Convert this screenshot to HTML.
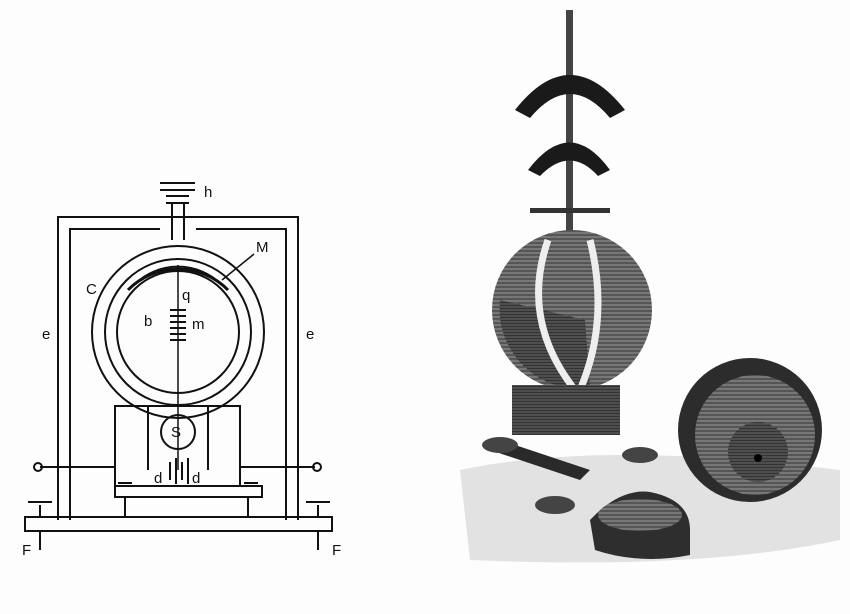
<!DOCTYPE html>
<html><head><meta charset="utf-8"><style>
html,body{margin:0;padding:0;background:#fff}
svg{display:block}
text{font-family:"Liberation Sans",sans-serif;font-size:15px;fill:#111}
</style></head><body>
<svg width="850" height="614" viewBox="0 0 850 614" xmlns="http://www.w3.org/2000/svg">
<defs>
<pattern id="hl" width="4" height="4" patternUnits="userSpaceOnUse"><rect width="4" height="4" fill="#555"/><line x1="0" y1="1" x2="4" y2="1" stroke="#999" stroke-width="1"/></pattern>
<pattern id="hd" width="3" height="3" patternUnits="userSpaceOnUse"><rect width="3" height="3" fill="#333"/><line x1="0" y1="1" x2="3" y2="1" stroke="#777" stroke-width="0.8"/></pattern>
</defs>
<rect width="850" height="614" fill="#fdfdfd"/>
<g fill="none" stroke="#111" stroke-width="2">
<path d="M58 520 V217 H298 V520 M70 520 V229 H160 M196 229 H286 V520"/>
<path d="M160 183 H195 M160 190 H195 M166 196 H189 M166 203 H189 M172 203 V240 M184 203 V240"/>
<circle cx="178" cy="332" r="86"/>
<circle cx="178" cy="332" r="73"/>
<circle cx="178" cy="332" r="61"/>
<path d="M128 290 A70 70 0 0 1 228 290" stroke-width="3"/>
<path d="M135 284 A62 62 0 0 1 221 284" stroke-width="2"/>
<line x1="222" y1="280" x2="254" y2="254" stroke-width="1.5"/>
<line x1="178" y1="265" x2="178" y2="470" stroke-width="1.5"/>
<path d="M170 310 H186 M170 316 H186 M170 322 H186 M170 328 H186 M170 334 H186 M170 340 H186" stroke-width="2"/>
<rect x="115" y="406" width="125" height="80"/>
<path d="M148 406 V470 M208 406 V470"/>
<circle cx="178" cy="432" r="17"/>
<path d="M170 462 V480 M176 458 V484 M182 462 V480 M188 458 V484" stroke-width="2"/>
<path d="M40 467 H115 M240 467 H315"/>
<circle cx="38" cy="467" r="4"/><circle cx="317" cy="467" r="4"/>
<rect x="115" y="486" width="147" height="11"/>
<rect x="25" y="517" width="307" height="14"/>
<path d="M125 497 V517 M248 497 V517 M40 505 V517 M318 505 V517 M40 531 V550 M318 531 V550"/>
<path d="M28 502 H52 M306 502 H330 M118 483 H132 M244 483 H258"/>
</g>
<text x="204" y="197">h</text>
<text x="256" y="252">M</text>
<text x="86" y="294">C</text>
<text x="42" y="339">e</text>
<text x="306" y="339">e</text>
<text x="144" y="326">b</text>
<text x="182" y="300">q</text>
<text x="192" y="329">m</text>
<text x="171" y="437">S</text>
<text x="154" y="483">d</text>
<text x="192" y="483">d</text>
<text x="22" y="555">F</text>
<text x="332" y="555">F</text>

<path d="M460 470 Q600 440 840 470 L840 540 Q700 570 470 560 Z" fill="#e2e2e2"/>
<rect x="566" y="10" width="7" height="230" fill="#444"/>
<path d="M515 110 Q570 40 625 110 L610 118 Q570 70 530 118 Z" fill="#1a1a1a"/>
<path d="M528 170 Q570 115 610 170 L598 176 Q570 145 540 176 Z" fill="#1a1a1a"/>
<rect x="530" y="208" width="80" height="5" fill="#333"/>
<circle cx="572" cy="310" r="80" fill="url(#hl)"/>
<path d="M500 300 A80 80 0 0 0 590 388 L585 320 Z" fill="url(#hd)"/>
<path d="M548 240 Q520 320 575 390" stroke="#eee" stroke-width="7" fill="none"/>
<path d="M590 240 Q610 320 580 390" stroke="#eee" stroke-width="7" fill="none"/>
<rect x="512" y="385" width="108" height="50" fill="url(#hd)"/>
<path d="M500 440 L590 470 L580 480 L490 450 Z" fill="#2a2a2a"/>
<ellipse cx="500" cy="445" rx="18" ry="8" fill="#444"/>
<ellipse cx="640" cy="455" rx="18" ry="8" fill="#444"/>
<ellipse cx="555" cy="505" rx="20" ry="9" fill="#444"/>
<circle cx="750" cy="430" r="72" fill="#2c2c2c"/>
<circle cx="755" cy="435" r="60" fill="url(#hl)"/>
<circle cx="758" cy="452" r="30" fill="url(#hd)"/>
<circle cx="758" cy="458" r="4" fill="#000"/>
<path d="M590 520 Q620 488 650 492 Q690 500 690 530 L690 555 Q640 565 595 550 Z" fill="#2e2e2e"/>
<ellipse cx="640" cy="515" rx="42" ry="16" fill="url(#hl)"/>
</svg>
</body></html>
